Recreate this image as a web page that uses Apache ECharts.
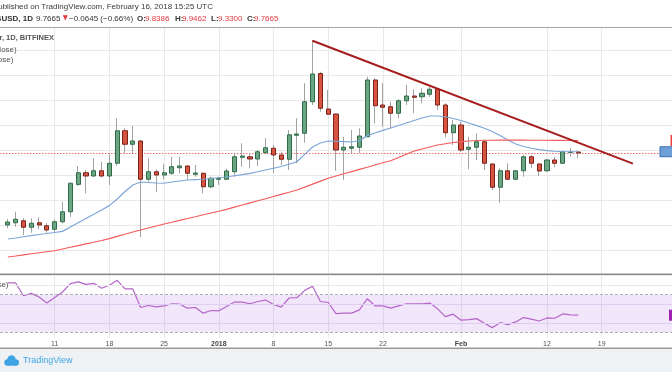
<!DOCTYPE html>
<html><head><meta charset="utf-8">
<script src="https://cdn.jsdelivr.net/npm/echarts@6/dist/echarts.min.js"></script>
<style>html,body{margin:0;padding:0;background:#fff;}#c{width:672px;height:372px;}</style>
</head><body><div id="c"></div>
<script>
// ---- data ----
const startDate = '2017-12-04';
const dayCount = 87; // categories through 2018-02-28
const tickDates = ['2017-12-11','2017-12-18','2017-12-25','2018-01-01','2018-01-08','2018-01-15','2018-01-22','2018-02-01','2018-02-12','2018-02-19'];
const tickLabels = ['11','18','25','2018','8','15','22','Feb','12','19'];
// candles from 2017-12-05: [open, close, low, high]
const candles = [
[4.00,4.24,3.76,4.48],[4.18,4.46,3.86,5.06],[4.34,3.82,3.20,4.54],[3.82,4.14,3.38,4.54],[4.18,4.00,3.66,4.62],
[3.94,3.60,3.38,4.14],[3.66,4.26,3.38,4.46],[4.26,5.06,4.14,5.86],[5.06,7.34,4.66,7.40],[7.25,8.18,7.12,8.72],
[8.18,7.92,6.54,8.40],[7.92,8.34,7.86,9.34],[8.34,7.92,7.82,9.06],[7.92,8.94,7.20,9.74],[8.94,11.54,8.72,12.54],
[11.54,10.46,9.74,11.74],[10.46,10.72,9.74,11.92],[10.72,7.66,3.04,10.80],[7.66,8.26,7.46,9.34],[8.26,8.00,6.66,8.46],
[8.00,8.18,7.66,8.86],[8.14,8.66,8.00,9.46],[8.58,8.72,8.14,9.46],[8.72,8.14,7.60,8.80],[8.06,8.16,7.86,8.80],
[8.14,7.06,6.54,8.18],[7.06,7.74,6.94,7.86],[7.66,7.74,7.20,7.86],[7.66,8.32,7.60,8.50],[8.26,9.46,7.86,9.74],
[9.42,9.52,8.66,10.54],[9.46,9.28,8.54,9.74],[9.28,9.86,8.72,10.00],[9.78,10.18,9.74,10.94],[10.14,9.60,8.18,10.40],
[9.60,9.26,8.80,9.86],[9.26,11.22,8.40,11.60],[11.18,11.28,8.94,12.54],[11.34,13.86,10.58,15.34],[13.86,16.08,13.60,18.80],
[16.12,13.34,13.06,16.26],[13.28,12.86,12.80,14.80],[12.88,10.00,8.34,12.90],[10.00,10.22,7.60,11.06],[10.14,10.26,9.74,11.60],
[10.22,11.12,9.74,11.74],[11.06,15.60,11.06,15.86],[15.60,13.54,12.14,15.74],[13.60,13.42,11.86,15.34],[13.46,12.94,11.74,13.86],
[12.94,13.94,12.54,14.06],[13.94,14.32,13.60,15.20],[14.32,14.22,12.94,14.86],[14.26,14.54,13.74,14.94],[14.46,14.86,14.26,15.06],
[14.86,13.60,13.20,14.94],[13.60,11.38,11.00,13.74],[11.38,12.00,10.40,12.40],[12.00,10.00,9.86,12.26],[10.06,10.22,8.46,11.06],
[10.22,10.66,9.20,11.34],[10.66,8.94,8.40,10.80],[8.88,7.02,6.80,8.94],[7.02,8.34,5.78,8.54],[8.34,7.66,7.60,8.94],
[7.66,8.34,7.60,8.40],[8.34,9.46,7.86,9.60],[9.46,8.94,8.54,9.60],[8.88,8.32,7.92,8.94],[8.34,9.20,8.26,9.28],
[9.20,8.94,8.62,9.46],[8.94,9.86,8.88,9.94],[9.80,9.84,9.46,10.14],[9.8386,9.7665,9.33,9.9462]
];
const maFast = [2.88,2.96,3.06,3.15,3.24,3.32,3.40,3.49,3.84,4.18,4.52,4.86,5.20,5.55,6.08,6.68,7.20,7.44,7.40,7.36,
7.34,7.44,7.52,7.60,7.63,7.66,7.72,7.78,7.84,7.94,8.03,8.13,8.26,8.40,8.54,8.68,8.86,9.06,9.65,10.24,
10.56,10.72,10.70,10.67,10.64,10.74,11.15,11.36,11.57,11.76,11.96,12.16,12.36,12.56,12.72,12.72,12.66,12.52,12.36,12.16,
11.95,11.74,11.48,11.16,10.80,10.48,10.28,10.14,10.03,9.95,9.90,9.87,9.86,9.86];
const maSlow = [1.44,1.52,1.61,1.70,1.78,1.86,1.94,2.08,2.22,2.35,2.49,2.62,2.76,2.91,3.09,3.26,3.44,3.60,3.76,3.92,
4.08,4.22,4.37,4.52,4.66,4.82,4.96,5.10,5.25,5.43,5.60,5.77,5.94,6.10,6.28,6.45,6.62,6.80,7.03,7.27,
7.51,7.74,7.92,8.10,8.27,8.45,8.62,8.80,8.98,9.14,9.40,9.66,9.92,10.08,10.24,10.40,10.50,10.60,10.67,10.72,
10.76,10.78,10.78,10.79,10.79,10.79,10.79,10.78,10.78,10.78,10.77,10.77,10.76,10.76];
const rsi = [82.5,82.5,68.9,71.4,67.5,61.1,67.1,72.9,81.8,83.6,81.0,82.1,76.8,80.0,85.3,76.1,76.1,56.4,58.5,57.1,
58.2,60.4,60.0,55.7,56.4,50.4,53.2,52.9,57.5,62.2,62.2,60.4,62.8,64.3,59.6,56.8,66.5,66.8,74.6,78.9,
62.8,61.7,50.0,50.4,50.4,53.9,65.7,58.2,58.2,55.7,58.2,60.4,60.4,60.4,61.1,55.0,46.7,49.3,42.9,43.5,
44.6,39.7,35.0,40.3,38.2,41.1,45.7,44.0,42.1,45.3,45.0,49.6,48.6,48.2];
const trendLine = [['2018-01-13',18.74],['2018-02-23',8.91]];
const lastPrice = 9.7665;

// ---- build ----
const dates = [];
const d0 = Date.UTC(2017,11,4);
for (let i=0;i<dayCount;i++) dates.push(new Date(d0 + i*86400000).toISOString().slice(0,10));
const pad = ['-'];
const candleData = [['-','-','-','-']].concat(candles);
const bodyData = [['-','-','-','-']].concat(candles.map(([o,c,l,h]) => [o,c,Math.min(o,c),Math.max(o,c)]));
const FONT = '"Liberation Sans", Arial, sans-serif';
const isTick = (idx, val) => tickDates.indexOf(val) >= 0;

const chart = echarts.init(document.getElementById('c'), null, {renderer:'canvas'});
const xCommon = {
  type:'category', data:dates, boundaryGap:false,
  axisLine:{show:false}, axisTick:{show:false},
  splitLine:{show:true, interval:isTick, lineStyle:{color:'#e9e9e9', width:1}}
};
chart.setOption({
  animation:false,
  backgroundColor:'#ffffff',
  grid:[
    {left:-5.53, width:681.98, top:25, height:250},
    {left:-5.53, width:681.98, top:274, height:64}
  ],
  xAxis:[
    Object.assign({gridIndex:0, axisLabel:{show:false}}, xCommon),
    Object.assign({gridIndex:1, axisLabel:{
      show:true, interval:isTick, margin:3, fontSize:7, fontFamily:FONT, color:'#555',
      formatter:(v)=>{const t = tickLabels[tickDates.indexOf(v)]; return (t==='2018'||t==='Feb') ? '{b|'+t+'}' : t;},
      rich:{b:{fontSize:7, fontWeight:'bold', fontFamily:FONT, color:'#444'}}
    }}, xCommon)
  ],
  yAxis:[
    {gridIndex:0, type:'value', min:0, max:20, interval:2, axisLabel:{show:false}, axisLine:{show:false}, axisTick:{show:false},
     splitLine:{show:true, lineStyle:{color:'#e9e9e9', width:1}}},
    {gridIndex:1, type:'value', min:24, max:92, axisLabel:{show:false}, axisLine:{show:false}, axisTick:{show:false}, splitLine:{show:false}}
  ],
  series:[
    {type:'candlestick', name:'wick', xAxisIndex:0, yAxisIndex:0, data:candleData, barWidth:1, z:2,
     itemStyle:{color:'#a2a2a2', color0:'#a2a2a2', borderColor:'#a2a2a2', borderColor0:'#a2a2a2', borderWidth:1}},
    {type:'candlestick', name:'body', xAxisIndex:0, yAxisIndex:0, data:bodyData, barWidth:4.6, z:3,
     itemStyle:{color:'#6ba583', color0:'#d75442', borderColor:'#2f6b47', borderColor0:'#7a2318', borderWidth:1},
     markLine:{silent:true, symbol:['none','none'], label:{show:false}, z:1,
       lineStyle:{type:[1.5,1.5], color:'#ef6b6b', width:1}, data:[{yAxis:lastPrice}]}},
    {type:'line', name:'MA fast', xAxisIndex:0, yAxisIndex:0, data:pad.concat(maFast), showSymbol:false, z:4,
     lineStyle:{color:'#7ca6d8', width:1.2}},
    {type:'line', name:'MA slow', xAxisIndex:0, yAxisIndex:0, data:pad.concat(maSlow), showSymbol:false, z:4,
     lineStyle:{color:'#f55a5a', width:1.2}},
    {type:'line', name:'trend', xAxisIndex:0, yAxisIndex:0, data:trendLine, showSymbol:false, z:5,
     lineStyle:{color:'#a51d1d', width:2}},
    {type:'line', name:'RSI', xAxisIndex:1, yAxisIndex:1, data:pad.concat(rsi), showSymbol:false, z:4,
     lineStyle:{color:'#b565c9', width:1.2},
     markArea:{silent:true, itemStyle:{color:'rgba(160,80,230,0.14)'}, data:[[{yAxis:30},{yAxis:70}]]},
     markLine:{silent:true, symbol:['none','none'], label:{show:false},
       data:[
         {yAxis:80, lineStyle:{color:'#e9e9e9', type:'solid', width:1}},
         {yAxis:60, lineStyle:{color:'#ddcdee', type:'solid', width:1}},
         {yAxis:40, lineStyle:{color:'#ddcdee', type:'solid', width:1}},
         {yAxis:70, lineStyle:{color:'#b0b0b0', type:[3,2], width:1}},
         {yAxis:30, lineStyle:{color:'#b0b0b0', type:[3,2], width:1}}
       ]}}
  ]
});

const yFast = chart.convertToPixel({yAxisIndex:0}, maFast[maFast.length-1]);
const ySlow = chart.convertToPixel({yAxisIndex:0}, maSlow[maSlow.length-1]);
const yRsi = chart.convertToPixel({yAxisIndex:1}, rsi[rsi.length-1]);

function txt(text, x, y, opts){
  opts = opts || {};
  const align = opts.align || 'left';
  return {type:'text', z:110, style:{text:text, x:x, y:y, align:align, textAlign:align, verticalAlign:'middle', textVerticalAlign:'middle',
    font:(opts.weight||'normal')+' '+(opts.size||8)+'px '+FONT, fill:opts.color||'#333'}};
}
const RED = '#e0393e';
chart.setOption({
  graphic:[
    {type:'rect', z:100, shape:{x:0,y:0,width:672,height:27}, style:{fill:'#ffffff'}},
    {type:'line', z:101, shape:{x1:0,y1:27.5,x2:672,y2:27.5}, style:{stroke:'#a5a5a5', lineWidth:1}},
    txt('Published on TradingView.com, February 16, 2018 15:25 UTC', 213, 7, {align:'right', color:'#3a3a3a'}),
    txt('EOSUSD, 1D', 33, 18.5, {align:'right', weight:'bold', color:'#333'}),
    txt('9.7665', 36, 18.5, {color:'#333'}),
    {type:'polygon', z:110, shape:{points:[[62.8,15.3],[67.8,15.3],[65.3,20.5]]}, style:{fill:RED}},
    txt('\u22120.0645 (\u22120.66%)', 69, 18.5, {color:'#333'}),
    txt('O:', 137, 18.5, {weight:'bold', color:'#333'}), txt('9.8386', 145, 18.5, {color:RED}),
    txt('H:', 175, 18.5, {weight:'bold', color:'#333'}), txt('9.9462', 182, 18.5, {color:RED}),
    txt('L:', 211, 18.5, {weight:'bold', color:'#333'}), txt('9.3300', 218, 18.5, {color:RED}),
    txt('C:', 247, 18.5, {weight:'bold', color:'#333'}), txt('9.7665', 254, 18.5, {color:RED}),
    txt('EOS / Dollar, 1D, BITFINEX', 54, 38, {align:'right', weight:'bold', size:7.5, color:'#555'}),
    txt('MA (20, close)', 16.7, 49.3, {align:'right', color:'#555'}),
    txt('MA (50, close)', 13.3, 60, {align:'right', color:'#555'}),
    txt('RSI (14, close)', 8.5, 284.5, {align:'right', color:'#555'}),
    {type:'line', z:101, shape:{x1:0,y1:274.3,x2:672,y2:274.3}, style:{stroke:'#8c8c8c', lineWidth:1.5}},
    {type:'rect', z:100, shape:{x:0,y:348.5,width:672,height:24}, style:{fill:'#eff2f5'}},
    {type:'line', z:101, shape:{x1:0,y1:348.3,x2:672,y2:348.3}, style:{stroke:'#9a9a9a', lineWidth:1.5}},
    {type:'rect', z:102, shape:{x:660, y:yFast-5, width:14, height:10}, style:{fill:'#6f9fd8', stroke:'#3b6fb0', lineWidth:1}},
    {type:'rect', z:102, shape:{x:670.5, y:ySlow-5.5, width:4, height:11}, style:{fill:'#f04040'}},
    {type:'rect', z:102, shape:{x:669, y:yRsi-5.5, width:5, height:11}, style:{fill:'#a020b0'}},
    {type:'circle', z:103, shape:{cx:7.5, cy:362.5, r:3.2}, style:{fill:'#3fa4e4'}},
    {type:'circle', z:103, shape:{cx:11.5, cy:359.5, r:4.2}, style:{fill:'#3fa4e4'}},
    {type:'circle', z:103, shape:{cx:15.8, cy:362.5, r:3.2}, style:{fill:'#3fa4e4'}},
    {type:'rect', z:103, shape:{x:7.5, y:361, width:8.3, height:4.7}, style:{fill:'#3fa4e4'}},
    txt('TradingView', 23, 360.5, {size:9, color:'#3fa4e4'})
  ]
});
</script></body></html>
